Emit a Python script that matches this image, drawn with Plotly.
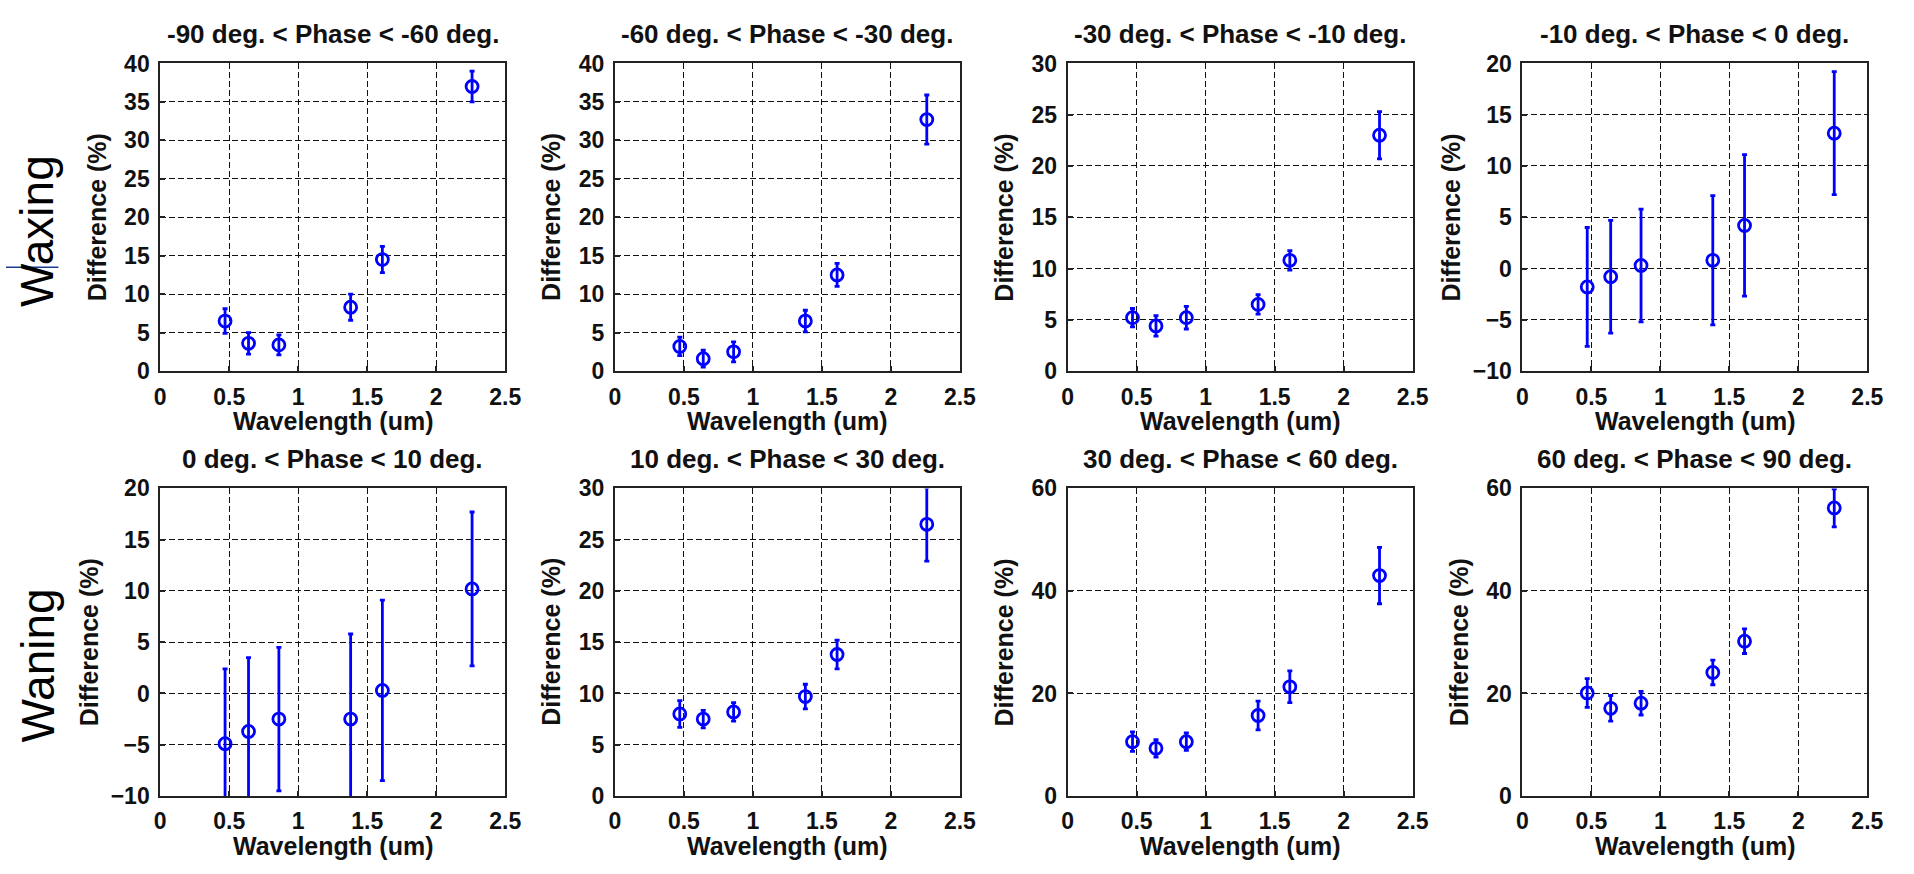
import plotly.graph_objects as go

# ---- data -------------------------------------------------------------
wavelength = [0.47, 0.64, 0.86, 1.38, 1.61, 2.26]

phase_titles = [
    "-90 deg. < Phase < -60 deg.",
    "-60 deg. < Phase < -30 deg.",
    "-30 deg. < Phase < -10 deg.",
    "-10 deg. < Phase < 0 deg.",
    "0 deg. < Phase < 10 deg.",
    "10 deg. < Phase < 30 deg.",
    "30 deg. < Phase < 60 deg.",
    "60 deg. < Phase < 90 deg.",
]

# waxing
diff_m90_m60 = [6.5, 3.6, 3.4, 8.3, 14.5, 37.0]
err_m90_m60 = [1.6, 1.4, 1.3, 1.7, 1.7, 2.0]
diff_m60_m30 = [3.2, 1.6, 2.5, 6.5, 12.5, 32.7]
err_m60_m30 = [1.2, 1.1, 1.3, 1.4, 1.5, 3.2]
diff_m30_m10 = [5.2, 4.4, 5.2, 6.5, 10.8, 23.0]
err_m30_m10 = [0.9, 1.0, 1.1, 0.95, 0.95, 2.3]
diff_m10_0 = [-1.8, -0.8, 0.3, 0.8, 4.2, 13.2]
err_m10_0 = [5.8, 5.5, 5.5, 6.3, 6.9, 6.0]

# waning
diff_0_10 = [-4.9, -3.7, -2.5, -2.5, 0.3, 10.2]
err_0_10 = [7.3, 7.2, 7.0, 8.3, 8.8, 7.5]
diff_10_30 = [8.0, 7.5, 8.2, 9.7, 13.8, 26.5]
err_10_30 = [1.3, 0.85, 0.9, 1.2, 1.4, 3.6]
diff_30_60 = [10.6, 9.3, 10.6, 15.7, 21.3, 43.0]
err_30_60 = [1.9, 1.7, 1.7, 2.8, 3.1, 5.5]
diff_60_90 = [20.1, 17.1, 18.1, 24.1, 30.2, 56.2]
err_60_90 = [2.8, 2.5, 2.3, 2.4, 2.4, 3.7]

series = [
    (diff_m90_m60, err_m90_m60), (diff_m60_m30, err_m60_m30),
    (diff_m30_m10, err_m30_m10), (diff_m10_0, err_m10_0),
    (diff_0_10, err_0_10), (diff_10_30, err_10_30),
    (diff_30_60, err_30_60), (diff_60_90, err_60_90),
]

y_ranges = [(0, 40, 5), (0, 40, 5), (0, 30, 5), (-10, 20, 5),
            (-10, 20, 5), (0, 30, 5), (0, 60, 20), (0, 60, 20)]

row_labels = ["Waxing", "Waning"]

# ---- layout geometry (pixels) -----------------------------------------
W, H = 1914, 874
col_left = [156, 616, 1074, 1534]
panel_w = 349
row_top = [52, 490]
panel_h = 317

FONT = "Liberation Sans, Arial, sans-serif"
BLUE = "#0000ff"
INK = "#111111"


def px_x(px):
    return px / W


def px_y(py):
    return 1 - py / H


fig = go.Figure()
layout = dict(
    width=W, height=H,
    margin=dict(l=0, r=0, t=0, b=0),
    paper_bgcolor="white", plot_bgcolor="white",
    showlegend=False,
    font=dict(family=FONT, color=INK),
)
annotations = []

axis_common = dict(
    showline=True, mirror=True, linecolor="#222222", linewidth=1.8,
    ticks="inside", ticklen=5, tickwidth=1.5, tickcolor="#222222",
    showgrid=True, gridcolor=INK, gridwidth=1.4, griddash="6px,3px",
    zeroline=False,
    tickfont=dict(family=FONT, size=23, color=INK, weight="bold"),
    ticklabelstandoff=4,
)

for i, ((yv, ev), (ymin, ymax, dy)) in enumerate(zip(series, y_ranges)):
    r, c = divmod(i, 4)
    n = i + 1
    xname = "x" if n == 1 else f"x{n}"
    yname = "y" if n == 1 else f"y{n}"
    left = col_left[c]
    top = row_top[r]

    fig.add_trace(go.Scatter(
        x=wavelength, y=yv,
        mode="markers",
        marker=dict(symbol="circle-open", size=12, color=BLUE,
                    line=dict(width=2.8, color=BLUE)),
        error_y=dict(type="data", array=ev, visible=True,
                     color=BLUE, thickness=2.8, width=2.5),
        xaxis=xname, yaxis=yname,
    ))

    layout["xaxis" if n == 1 else f"xaxis{n}"] = dict(
        axis_common,
        domain=[px_x(left), px_x(left + panel_w)],
        anchor=yname, range=[0, 2.5], dtick=0.5, tick0=0,
    )
    layout["yaxis" if n == 1 else f"yaxis{n}"] = dict(
        axis_common,
        domain=[px_y(top + panel_h), px_y(top)],
        anchor=xname, range=[ymin, ymax], dtick=dy, tick0=ymin,
    )

    cx = left + panel_w / 2
    # panel title
    annotations.append(dict(
        text=phase_titles[i], xref="paper", yref="paper",
        x=px_x(cx), y=px_y(top - 30), xanchor="center", yanchor="middle",
        showarrow=False, font=dict(size=26, weight="bold", color=INK),
    ))
    # x-axis title
    annotations.append(dict(
        text="Wavelength (um)", xref="paper", yref="paper",
        x=px_x(cx), y=px_y(top + panel_h + 52), xanchor="center", yanchor="middle",
        showarrow=False, font=dict(size=25, weight="bold", color=INK),
    ))
    # y-axis title
    offset = 72 if ymin < 0 else 64
    annotations.append(dict(
        text="Difference (%)", xref="paper", yref="paper",
        x=px_x(left - offset), y=px_y(top + panel_h / 2),
        xanchor="center", yanchor="middle", textangle=-90,
        showarrow=False, font=dict(size=25, weight="bold", color=INK),
    ))

# row labels
for label, cy in zip(row_labels, [225, 673]):
    annotations.append(dict(
        text=label, xref="paper", yref="paper",
        x=px_x(32), y=px_y(cy), xanchor="center", yanchor="middle",
        textangle=-90, showarrow=False,
        font=dict(size=46, color="#000000"),
    ))

layout["annotations"] = annotations
layout["shapes"] = [dict(
    type="line", xref="paper", yref="paper",
    x0=0, x1=px_x(53), y0=px_y(262), y1=px_y(262),
    line=dict(color="#1c3c8c", width=1.5),
)]

fig.update_layout(**layout)
fig.write_html("out.html")
